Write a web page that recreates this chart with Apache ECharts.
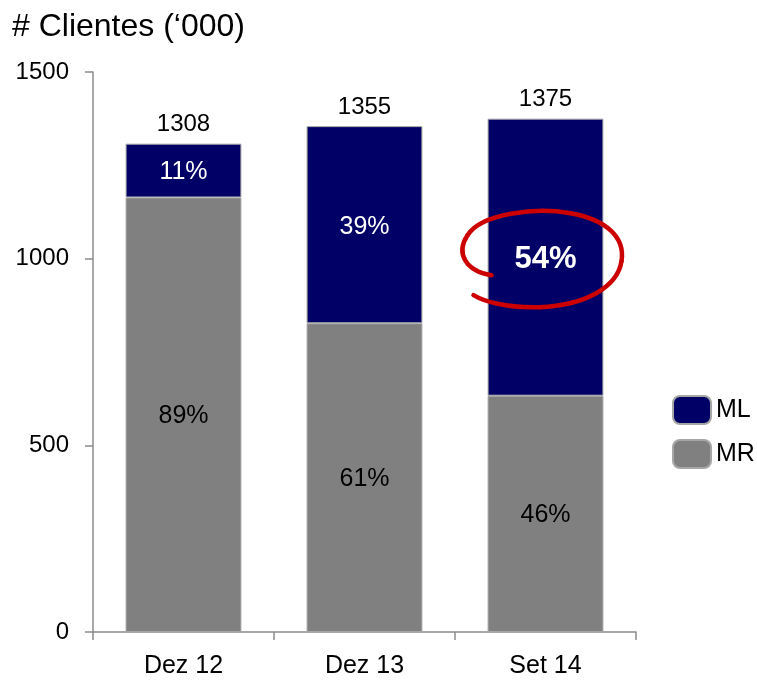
<!DOCTYPE html>
<html><head><meta charset="utf-8">
<script src="https://cdn.jsdelivr.net/npm/echarts@6/dist/echarts.min.js"></script>
<style>html,body{margin:0;padding:0;background:#fff}#c{width:757px;height:681px}</style>
</head><body><div id="c"></div>
<script>
var categories = ['Dez 12', 'Dez 13', 'Set 14'];
var mlValues = [144, 528, 742];
var mrValues = [1164, 827, 633];
var totals = [1308, 1355, 1375];
var mlPct = ['11%', '39%', '54%'];
var mrPct = ['89%', '61%', '46%'];
var yTicks = [0, 500, 1000, 1500];

var FONT = '"Liberation Sans", Arial, sans-serif';
var chart = echarts.init(document.getElementById('c'));
var option = {
  animation: false,
  textStyle: { fontFamily: FONT },
  title: {
    text: '# Clientes (\u2018000)', left: 7, top: 6,
    textStyle: { fontFamily: FONT, fontSize: 32, fontWeight: 'normal', color: '#000' }
  },
  grid: { left: 93, right: 121, top: 72, bottom: 49 },
  legend: {
    data: ['ML', 'MR'], orient: 'vertical', left: 667, top: 390,
    itemWidth: 38, itemHeight: 28, itemGap: 14,
    textStyle: { fontFamily: FONT, fontSize: 25, color: '#000', padding: [0, 0, 0, 0] }
  },
  xAxis: {
    type: 'category', data: categories,
    axisLine: { lineStyle: { color: '#8c8c8c', width: 1.5 } },
    axisTick: { show: true, length: 8, lineStyle: { color: '#8c8c8c', width: 1.5 } },
    axisLabel: { fontFamily: FONT, fontSize: 25, color: '#000', margin: 22 }
  },
  yAxis: {
    type: 'value', min: yTicks[0], max: yTicks[yTicks.length - 1], interval: 500,
    splitLine: { show: false },
    axisLine: { show: true, lineStyle: { color: '#8c8c8c', width: 1.5 } },
    axisTick: { show: true, length: 8, lineStyle: { color: '#8c8c8c', width: 1.5 } },
    axisLabel: { fontFamily: FONT, fontSize: 24, color: '#000', margin: 24,
      formatter: function (v) { return String(v); } }
  },
  series: [
    {
      name: 'MR', type: 'bar', stack: 's', barCategoryGap: '36%',
      data: mrValues,
      itemStyle: { color: '#808080', borderColor: '#a6a6a6', borderWidth: 1 },
      label: { show: true, position: 'inside', offset: [0, 1], fontFamily: FONT, fontSize: 25, color: '#000',
        formatter: function (p) { return mrPct[p.dataIndex]; } }
    },
    {
      name: 'ML', type: 'bar', stack: 's',
      data: mlValues.map(function (v, i) {
        return i === 2 ? { value: v, label: { fontWeight: 'bold', fontSize: 31 } } : v;
      }),
      itemStyle: { color: '#000066', borderColor: '#a6a6a6', borderWidth: 1 },
      label: { show: true, position: 'inside', offset: [0, 2], fontFamily: FONT, fontSize: 25, color: '#fff',
        formatter: function (p) { return mlPct[p.dataIndex]; } }
    },
    {
      name: 'Total', type: 'scatter', data: totals, symbolSize: 0, silent: true,
      itemStyle: { opacity: 1 },
      label: { show: true, position: 'top', distance: 7, fontFamily: FONT, fontSize: 24, color: '#000',
        formatter: function (p) { return String(totals[p.dataIndex]); } }
    }
  ]
};
chart.setOption(option);

// hand-drawn red loop around the Set 14 ML label
var mid = mrValues[2] + mlValues[2] / 2;
var c = chart.convertToPixel({ gridIndex: 0 }, [categories[2], mid]);
var cx = c[0], cy = c[1];
var segs = [
  [[-54, 18], [-80, 14], [-90, -4], [-78, -22]],
  [[-78, -22], [-64, -44], [-10, -50], [25, -44]],
  [[25, -44], [60, -38], [80, -20], [76, 4]],
  [[76, 4], [72, 30], [40, 48], [-6, 50]],
  [[-6, 50], [-40, 51], [-62, 44], [-72, 38]]
];
var graphics = segs.map(function (s) {
  return {
    type: 'bezierCurve', silent: true, z: 100,
    shape: {
      x1: cx + s[0][0], y1: cy + s[0][1],
      cpx1: cx + s[1][0], cpy1: cy + s[1][1],
      cpx2: cx + s[2][0], cpy2: cy + s[2][1],
      x2: cx + s[3][0], y2: cy + s[3][1]
    },
    style: { fill: null, stroke: '#cc0000', lineWidth: 4.5, lineCap: 'round' }
  };
});
chart.setOption({ graphic: graphics });
</script></body></html>
